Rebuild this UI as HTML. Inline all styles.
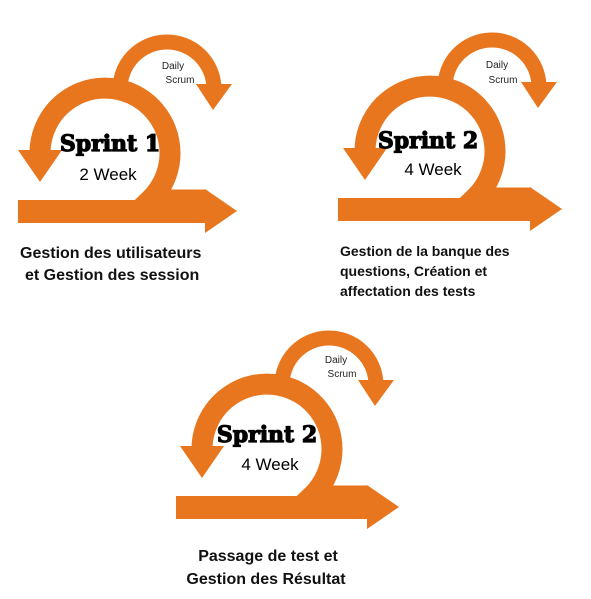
<!DOCTYPE html>
<html><head><meta charset="utf-8"><style>
html,body{margin:0;padding:0;background:#fff;width:591px;height:599px;overflow:hidden}
svg{display:block}
.sp{font-family:"DejaVu Serif","Liberation Serif",serif;font-weight:bold;font-size:22px;fill:#000;stroke:#000;stroke-width:1.2px}
.wk{font-family:"Liberation Sans","DejaVu Sans",sans-serif;font-size:17px;fill:#000}
.ds{font-family:"Liberation Sans","DejaVu Sans",sans-serif;font-size:10px;fill:#222}
.lb{font-family:"Liberation Sans","DejaVu Sans",sans-serif;font-weight:bold;font-size:16px;fill:#111}
.lb2{font-family:"Liberation Sans","DejaVu Sans",sans-serif;font-weight:bold;font-size:14px;fill:#111}
</style></head><body>
<svg width="591" height="599" viewBox="0 0 591 599" xmlns="http://www.w3.org/2000/svg">
<defs>
<g id="cyc" fill="none" stroke="#E8761E">
  <path d="M120 90 A47 47 0 1 1 214 88" stroke-width="15"/>
  <polygon points="196,84 232,84 213,110" fill="#E8761E" stroke="none"/>
  <path d="M40 152 A65 65 0 1 1 150 200 L205 200" stroke-width="21"/>
  <polygon points="18,150 62,150 40,182" fill="#E8761E" stroke="none"/>
  <rect x="18" y="200" width="190" height="23" fill="#E8761E" stroke="none"/>
  <polygon points="205,189 237,211 205,233" fill="#E8761E" stroke="none"/>
</g>
</defs>
<use href="#cyc"/>
<use href="#cyc" transform="translate(325,-2)"/>
<g transform="translate(162,296)"><use href="#cyc"/></g>
<rect x="176" y="496" width="20" height="23" fill="#E8761E"/>
<rect x="338" y="198" width="10" height="23" fill="#E8761E"/>

<text class="sp" x="110" y="151" text-anchor="middle">Sprint 1</text>
<text class="wk" x="108" y="180" text-anchor="middle">2 Week</text>
<text class="ds" x="173" y="69" text-anchor="middle">Daily</text>
<text class="ds" x="180" y="83" text-anchor="middle">Scrum</text>

<text class="sp" x="428" y="148" text-anchor="middle">Sprint 2</text>
<text class="wk" x="433" y="175" text-anchor="middle">4 Week</text>
<text class="ds" x="497" y="68" text-anchor="middle">Daily</text>
<text class="ds" x="503" y="83" text-anchor="middle">Scrum</text>

<text class="sp" x="267" y="442" text-anchor="middle">Sprint 2</text>
<text class="wk" x="270" y="470" text-anchor="middle">4 Week</text>
<text class="ds" x="336" y="363" text-anchor="middle">Daily</text>
<text class="ds" x="342" y="377" text-anchor="middle">Scrum</text>

<text class="lb" x="20" y="258">Gestion des utilisateurs</text>
<text class="lb" x="25" y="280">et Gestion des session</text>

<text class="lb2" x="340" y="256">Gestion de la banque des</text>
<text class="lb2" x="340" y="276">questions, Création et</text>
<text class="lb2" x="340" y="296">affectation des tests</text>

<text class="lb" x="268" y="561" text-anchor="middle">Passage de test et</text>
<text class="lb" x="266" y="584" text-anchor="middle">Gestion des Résultat</text>
</svg>
</body></html>
